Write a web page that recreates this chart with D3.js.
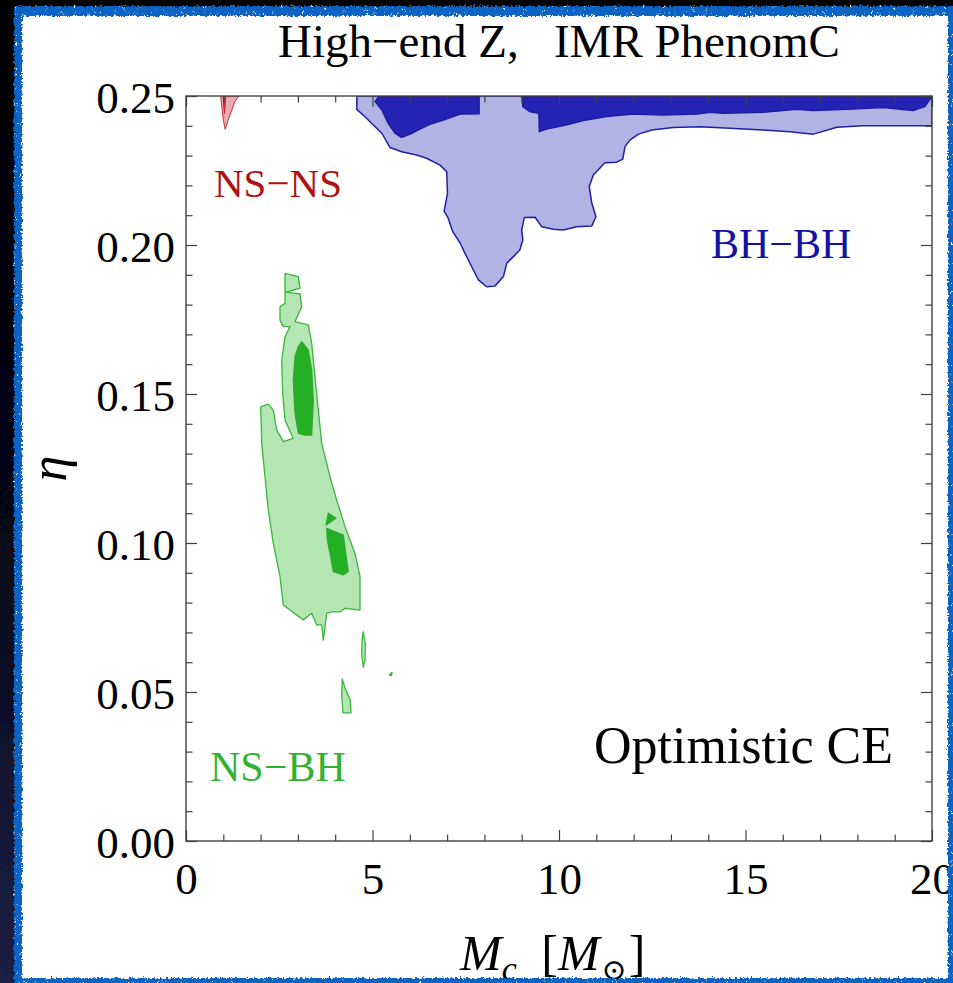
<!DOCTYPE html>
<html>
<head>
<meta charset="utf-8">
<script src="https://cdn.jsdelivr.net/npm/d3@7"></script>
<style>
  html, body { margin: 0; padding: 0; background: #fff; }
  svg { display: block; }
  text { font-family: "Liberation Serif", "Times New Roman", "DejaVu Serif", serif; }
</style>
</head>
<body>
<svg id="chart" width="953" height="983"></svg>
<script>
// ---- axis ticks ----
const xTicks = [0, 5, 10, 15, 20];
const xMinorTicks = [1, 2, 3, 4, 6, 7, 8, 9, 11, 12, 13, 14, 16, 17, 18, 19];
const yTicks = [0, 0.05, 0.10, 0.15, 0.20, 0.25];
const yMinorTicks = [0.01, 0.02, 0.03, 0.04, 0.06, 0.07, 0.08, 0.09, 0.11, 0.12, 0.13, 0.14,
                     0.16, 0.17, 0.18, 0.19, 0.21, 0.22, 0.23, 0.24];

// ---- contour outlines, [Mc (Msun), eta] ----
// BH-BH: outer level
const bhOuter = [
  [4.58,0.25],[20,0.25],[20,0.2400],[19.32,0.2400],[18.15,0.2400],[17.45,0.2395],[16.82,0.2372],
  [16.19,0.2380],[15.47,0.2386],[14.58,0.2392],[13.78,0.2397],[13.06,0.2394],[12.49,0.2386],
  [12.13,0.2372],[11.90,0.2352],[11.77,0.2330],[11.71,0.2288],[11.55,0.2278],[11.23,0.2276],
  [10.92,0.2235],[10.81,0.2196],[10.88,0.2140],[10.99,0.2095],[10.88,0.2064],[10.47,0.2061],
  [10.12,0.2050],[9.85,0.2053],[9.54,0.2061],[9.36,0.2093],[9.07,0.2092],[9.00,0.2050],
  [9.03,0.2017],[8.95,0.1983],[8.69,0.1950],[8.60,0.1939],[8.51,0.1894],[8.28,0.1862],
  [8.06,0.1860],[7.84,0.1883],[7.66,0.1927],[7.48,0.1972],[7.35,0.2006],[7.15,0.2045],
  [7.03,0.2090],[6.92,0.2114],[7.01,0.2173],[6.99,0.2246],[6.81,0.2268],[6.45,0.2291],
  [6.18,0.2302],[5.78,0.2313],[5.47,0.2327],[5.25,0.2375],[4.75,0.2436],[4.58,0.2455]
];
// BH-BH: inner level, two pieces
const bhCoreA = [
  [5.17,0.25],[5.07,0.2481],[5.25,0.2453],[5.42,0.2408],[5.60,0.2375],[5.78,0.2361],
  [6.01,0.2372],[6.27,0.2389],[6.54,0.2405],[6.90,0.2419],[7.35,0.2439],[7.86,0.2440],[7.86,0.25]
];
const bhCoreB = [
  [9.00,0.25],[9.03,0.2464],[9.22,0.2447],[9.46,0.2442],[9.47,0.2380],[9.67,0.2389],
  [10.21,0.2403],[10.65,0.2417],[11.28,0.2431],[11.99,0.2439],[12.79,0.2436],[13.69,0.2439],
  [14.05,0.2445],[14.40,0.2442],[15.47,0.2445],[16.37,0.2455],[16.81,0.2451],[17.71,0.2455],
  [18.69,0.2461],[19.49,0.2451],[19.81,0.2464],[20,0.2498],[20,0.25]
];

// NS-NS
const nsnsOuter = [
  [0.93,0.25],[0.96,0.2464],[1.00,0.2419],[1.05,0.2388],[1.13,0.2419],[1.23,0.2453],
  [1.31,0.2481],[1.42,0.25]
];
const nsnsCore = [[1.00,0.25],[1.06,0.25],[1.05,0.2470],[1.03,0.2440],[1.01,0.2470]];

// NS-BH
const nsbhOuter = [
  [2.654,0.1905],[3.011,0.1894],[3.056,0.1855],[2.681,0.1842],[3.056,0.1836],[3.102,0.1793],
  [2.922,0.1743],[3.279,0.1732],[3.370,0.1670],[3.458,0.1558],[3.547,0.1446],[3.638,0.1335],
  [3.861,0.1222],[4.040,0.1144],[4.263,0.1055],[4.531,0.0965],[4.665,0.0887],[4.665,0.0775],
  [4.263,0.0781],[4.129,0.0769],[3.906,0.0769],[3.772,0.0764],[3.681,0.0674],[3.638,0.0725],
  [3.504,0.0725],[3.370,0.0764],[3.145,0.0742],[2.609,0.0792],[2.520,0.0887],[2.340,0.0999],
  [2.206,0.1111],[2.118,0.1222],[2.029,0.1335],[2.003,0.1457],[2.206,0.1466],[2.340,0.1446],
  [2.432,0.1379],[2.609,0.1340],[2.877,0.1351],[2.654,0.1413],[2.592,0.1502],[2.566,0.1614],
  [2.654,0.1692],[2.788,0.1726],[2.609,0.1726],[2.520,0.1748],[2.520,0.1793],[2.654,0.1804],
  [2.654,0.1843]
];
const nsbhCoreUpper = [
  [3.102,0.1676],[3.279,0.1648],[3.370,0.1581],[3.413,0.1480],[3.370,0.1362],[3.190,0.1362],
  [3.011,0.1368],[2.922,0.1435],[2.877,0.1547],[2.922,0.1625],[3.011,0.1659]
];
const nsbhCoreLower = [
  [3.772,0.1049],[4.083,0.1033],[4.217,0.1027],[4.308,0.0943],[4.351,0.0904],[4.217,0.0893],
  [3.949,0.0904],[3.861,0.0965],[3.788,0.1010]
];
const nsbhCoreTip = [[3.815,0.1100],[4.021,0.1083],[3.753,0.1060]];
const nsbhIslandA = [
  [4.753,0.0702],[4.807,0.0658],[4.799,0.0607],[4.753,0.0583],[4.710,0.0624],[4.718,0.0674]
];
const nsbhIslandB = [[4.190,0.0544],[4.263,0.0513],[4.405,0.0473],[4.424,0.0430],[4.209,0.0430],[4.174,0.0490]];
const nsbhIslandC = [[5.456,0.0557],[5.523,0.0566],[5.510,0.0555]];

// ---- layout ----
const W = 953, H = 983;
const plot = { left: 186, right: 932, top: 96, bottom: 841 };
const serif = '"Liberation Serif", "Times New Roman", "DejaVu Serif", serif';

const svg = d3.select("#chart");
const defs = svg.append("defs");

const x = d3.scaleLinear().domain([0, 20]).range([plot.left, plot.right]);
const y = d3.scaleLinear().domain([0, 0.25]).range([plot.bottom, plot.top]);

// white panel
svg.append("rect").attr("width", W).attr("height", H).attr("fill", "#fff");

// clip for the contour fills
defs.append("clipPath").attr("id", "plotClip")
  .append("rect")
  .attr("x", plot.left).attr("y", plot.top)
  .attr("width", plot.right - plot.left).attr("height", plot.bottom - plot.top);

const line = d3.line().x(d => x(d[0])).y(d => y(d[1]));
const shape = d => line(d) + "Z";

const gC = svg.append("g").attr("clip-path", "url(#plotClip)")
  .attr("stroke-linejoin", "round");

function region(data, fill, stroke, sw) {
  gC.append("path").attr("d", shape(data))
    .attr("fill", fill).attr("stroke", stroke).attr("stroke-width", sw);
}

// BH-BH
region(bhOuter, "#b1b3e5", "#1f1fa6", 1.5);
region(bhCoreA, "#2323b4", "#1a1a9e", 1.3);
region(bhCoreB, "#2323b4", "#1a1a9e", 1.3);
// NS-NS
region(nsnsOuter, "#eaa9b0", "#c4303f", 1.0);
region(nsnsCore, "#c8303f", "#b82838", 1.0);
// NS-BH
region(nsbhOuter, "#b4e6b4", "#3bb53b", 1.3);
region(nsbhIslandA, "#b4e6b4", "#3bb53b", 1.3);
region(nsbhIslandB, "#b4e6b4", "#3bb53b", 1.3);
region(nsbhIslandC, "#b4e6b4", "#3bb53b", 1.3);
region(nsbhCoreUpper, "#24b024", "#2ea82e", 1.2);
region(nsbhCoreLower, "#24b024", "#2ea82e", 1.2);
region(nsbhCoreTip, "#24b024", "#2ea82e", 1.2);

// ---- axes (ticks pointing inward on all four sides) ----
const axisColor = "#404040";
function styleAxis(g) {
  g.select(".domain").remove();
  g.selectAll(".tick line").attr("stroke", axisColor).attr("stroke-width", 1.2);
  g.selectAll(".tick text").attr("font-family", serif).attr("font-size", 45).attr("fill", "#000");
}

svg.append("g").attr("transform", `translate(0,${plot.bottom})`)
  .call(d3.axisBottom(x).tickValues(xTicks).tickSize(-11).tickPadding(21).tickFormat(d3.format("d")))
  .call(styleAxis);
svg.append("g").attr("transform", `translate(0,${plot.bottom})`)
  .call(d3.axisBottom(x).tickValues(xMinorTicks).tickSize(-6.5).tickFormat(""))
  .call(styleAxis);
svg.append("g").attr("transform", `translate(0,${plot.top})`)
  .call(d3.axisTop(x).tickValues(xTicks).tickSize(-11).tickFormat(""))
  .call(styleAxis);
svg.append("g").attr("transform", `translate(0,${plot.top})`)
  .call(d3.axisTop(x).tickValues(xMinorTicks).tickSize(-6.5).tickFormat(""))
  .call(styleAxis);

const gy = svg.append("g").attr("transform", `translate(${plot.left},0)`)
  .call(d3.axisLeft(y).tickValues(yTicks).tickSize(-11).tickPadding(11).tickFormat(d3.format(".2f")))
  .call(styleAxis);
gy.selectAll(".tick text").attr("dy", "0.37em");
svg.append("g").attr("transform", `translate(${plot.left},0)`)
  .call(d3.axisLeft(y).tickValues(yMinorTicks).tickSize(-6.5).tickFormat(""))
  .call(styleAxis);
svg.append("g").attr("transform", `translate(${plot.right},0)`)
  .call(d3.axisRight(y).tickValues(yTicks).tickSize(-11).tickFormat(""))
  .call(styleAxis);
svg.append("g").attr("transform", `translate(${plot.right},0)`)
  .call(d3.axisRight(y).tickValues(yMinorTicks).tickSize(-6.5).tickFormat(""))
  .call(styleAxis);

// frame
svg.append("rect")
  .attr("x", plot.left).attr("y", plot.top)
  .attr("width", plot.right - plot.left).attr("height", plot.bottom - plot.top)
  .attr("fill", "none").attr("stroke", axisColor).attr("stroke-width", 1.4);

// ---- text ----
svg.append("text")
  .attr("x", (plot.left + plot.right) / 2).attr("y", 57)
  .attr("text-anchor", "middle").attr("font-size", 47).attr("fill", "#000")
  .text("High\u2212end Z,\u00a0\u00a0\u00a0IMR PhenomC");

// y label
svg.append("text")
  .attr("transform", `translate(66,${(plot.top + plot.bottom) / 2}) rotate(-90)`)
  .attr("text-anchor", "middle").attr("font-size", 52).attr("font-style", "italic")
  .attr("fill", "#000").text("\u03b7");

// x label: M_c [M_sun]
const xl = svg.append("text").attr("x", 460).attr("y", 970)
  .attr("font-size", 50).attr("fill", "#000");
xl.append("tspan").attr("font-style", "italic").text("M");
xl.append("tspan").attr("font-style", "italic").attr("font-size", 34).attr("dy", 10).text("c");
xl.append("tspan").attr("dy", -10).attr("dx", 12).text("\u00a0[");
xl.append("tspan").attr("font-style", "italic").text("M");
xl.append("tspan").attr("font-size", 30).attr("dy", 10).attr("dx", 2).text("\u2299");
xl.append("tspan").attr("dy", -10).attr("dx", 2).text("]");

// population labels
svg.append("text").attr("x", 214).attr("y", 197).attr("font-size", 41)
  .attr("fill", "#b01212").text("NS\u2212NS");
svg.append("text").attr("x", 711).attr("y", 258).attr("font-size", 42)
  .attr("fill", "#1212a6").text("BH\u2212BH");
svg.append("text").attr("x", 210).attr("y", 781).attr("font-size", 42)
  .attr("fill", "#33b133").text("NS\u2212BH");
svg.append("text").attr("x", 893).attr("y", 763).attr("font-size", 52)
  .attr("text-anchor", "end").attr("fill", "#000").text("Optimistic CE");

// ---- rough-edged blue frame around the panel ----
const grad = defs.append("linearGradient").attr("id", "outerGrad")
  .attr("x1", 0).attr("y1", 0).attr("x2", 0).attr("y2", 1);
grad.append("stop").attr("offset", "0%").attr("stop-color", "#000");
grad.append("stop").attr("offset", "55%").attr("stop-color", "#07071a");
grad.append("stop").attr("offset", "100%").attr("stop-color", "#1e2146");

const rough = defs.append("filter").attr("id", "rough")
  .attr("x", "-2%").attr("y", "-2%").attr("width", "104%").attr("height", "104%");
rough.append("feTurbulence").attr("type", "fractalNoise").attr("baseFrequency", "0.45")
  .attr("numOctaves", 3).attr("seed", 7).attr("result", "noise");
rough.append("feDisplacementMap").attr("in", "SourceGraphic").attr("in2", "noise")
  .attr("scale", 5).attr("xChannelSelector", "R").attr("yChannelSelector", "G");

const speck = defs.append("filter").attr("id", "speck")
  .attr("x", 0).attr("y", 0).attr("width", "100%").attr("height", "100%");
speck.append("feTurbulence").attr("type", "fractalNoise").attr("baseFrequency", "0.9")
  .attr("numOctaves", 2).attr("seed", 3).attr("result", "n");
speck.append("feColorMatrix").attr("in", "n").attr("type", "matrix")
  .attr("values", "0 0 0 0 1  0 0 0 0 1  0 0 0 0 1  9 0 0 0 -6.2").attr("result", "w");
speck.append("feComposite").attr("in", "w").attr("in2", "SourceAlpha").attr("operator", "in");

const ring = `M14,6H962V992H14Z M22,16V978H948V16Z`;
const outer = `M-10,-10H970V1000H-10Z M14,6V992H962V6Z`;
const gF = svg.append("g").attr("filter", "url(#rough)");
gF.append("path").attr("d", outer).attr("fill", "url(#outerGrad)").attr("fill-rule", "evenodd");
gF.append("path").attr("d", ring).attr("fill", "#0b64c4").attr("fill-rule", "evenodd");
gF.append("path").attr("d", ring).attr("fill", "#000").attr("fill-rule", "evenodd")
  .attr("filter", "url(#speck)");
</script>
</body>
</html>
